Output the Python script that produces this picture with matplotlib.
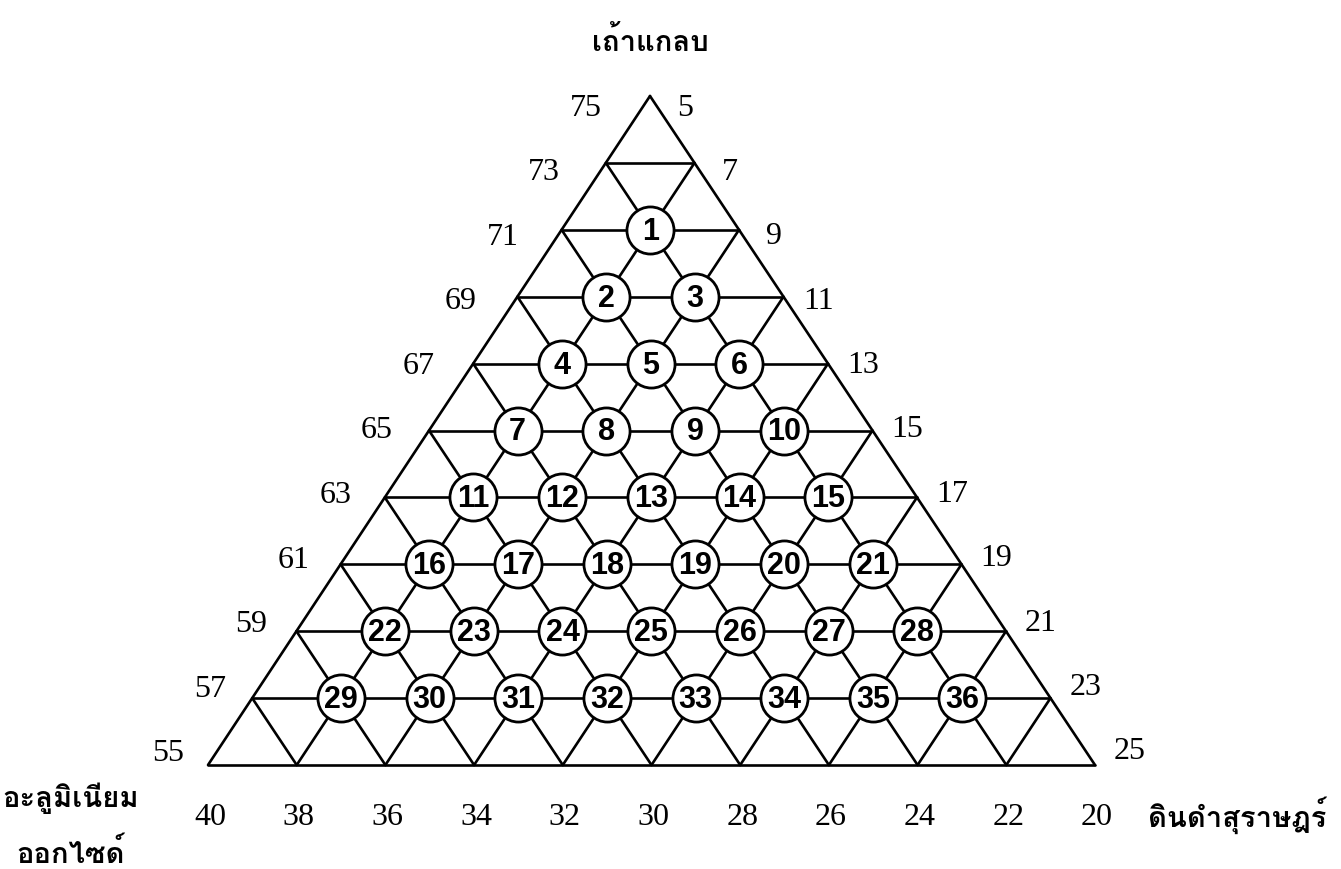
import matplotlib
matplotlib.use('Agg')
import matplotlib.pyplot as plt
from matplotlib import font_manager
from matplotlib.ft2font import FT2Font

# mixture design: เถ้าแกลบ (top), ดินดำสุราษฎร์ (right), อะลูมิเนียมออกไซด์ (left)
ash_ticks = [75, 73, 71, 69, 67, 65, 63, 61, 59, 57, 55]
soil_ticks = [5, 7, 9, 11, 13, 15, 17, 19, 21, 23, 25]
alu_ticks = [40, 38, 36, 34, 32, 30, 28, 26, 24, 22, 20]

# design points (percent), numbered row by row
pt_ash = [71,
          69, 69,
          67, 67, 67,
          65, 65, 65, 65,
          63, 63, 63, 63, 63,
          61, 61, 61, 61, 61, 61,
          59, 59, 59, 59, 59, 59, 59,
          57, 57, 57, 57, 57, 57, 57, 57]
pt_soil = [7,
           7, 9,
           7, 9, 11,
           7, 9, 11, 13,
           7, 9, 11, 13, 15,
           7, 9, 11, 13, 15, 17,
           7, 9, 11, 13, 15, 17, 19,
           7, 9, 11, 13, 15, 17, 19, 21]
pt_labels = [str(i + 1) for i in range(len(pt_ash))]


def thai_font():
    for f in font_manager.fontManager.ttflist:
        try:
            if 0x0E01 in FT2Font(f.fname).get_charmap():
                return f.name
        except Exception:
            pass
    return 'DejaVu Sans'


THAI = [thai_font(), 'DejaVu Sans']

# triangle corners in pixel space (top, bottom-left, bottom-right)
TOP = (650.0, 97.0)
BL = (208.0, 766.0)
BR = (1095.0, 766.0)


def to_xy(ash, soil):
    a = (ash - 55) / 20.0
    c = (soil - 5) / 20.0
    b = 1.0 - a - c
    x = a * TOP[0] + b * BL[0] + c * BR[0]
    y = a * TOP[1] + b * BL[1] + c * BR[1]
    return x, y


fig = plt.figure(figsize=(13.41, 8.70), dpi=100)
ax = fig.add_axes([0, 0, 1, 1])
ax.set_xlim(0, 1341)
ax.set_ylim(870, 0)
ax.axis('off')

lw = 1.9
# horizontal lines (constant ash)
for ash in ash_ticks[1:]:
    x0, y0 = to_xy(ash, 5)
    x1, y1 = to_xy(ash, 5 + (75 - ash))
    ax.plot([x0, x1], [y0, y1], 'k', lw=lw, solid_capstyle='round')
# lines of constant soil
for s in soil_ticks:
    x0, y0 = to_xy(75 - (s - 5), s)
    x1, y1 = to_xy(55, s)
    ax.plot([x0, x1], [y0, y1], 'k', lw=lw, solid_capstyle='round')
# lines of constant alumina
for al in alu_ticks:
    x0, y0 = to_xy(55 + (40 - al), 5)
    x1, y1 = to_xy(55, 45 - al)
    ax.plot([x0, x1], [y0, y1], 'k', lw=lw, solid_capstyle='round')

# design points
for ash, soil, lab in zip(pt_ash, pt_soil, pt_labels):
    x, y = to_xy(ash, soil)
    ax.scatter([x], [y], s=1150, facecolor='white', edgecolor='black',
               linewidth=2.0, zorder=3)
    ax.text(x, y + 1, lab, ha='center', va='center', fontsize=22,
            fontweight='bold', family='Liberation Sans', zorder=4)

serif = 'Liberation Serif'
# left side (ash)
for i, v in enumerate(ash_ticks):
    x, y = to_xy(v, 5)
    ax.text(x - 64 + 2.4 * i, y + 11 - 2.3 * i, str(v), ha='center',
            va='center', fontsize=23, family=serif)
# right side (soil)
for i, v in enumerate(soil_ticks):
    x, y = to_xy(55 + (25 - v), v)
    ax.text(x + 35, y + 11 - 2.5 * i, str(v), ha='center', va='center',
            fontsize=23, family=serif)
# bottom (alumina)
for v in alu_ticks:
    x, y = to_xy(55, 45 - v)
    ax.text(x + 2, 818, str(v), ha='center', va='center',
            fontsize=23, family=serif)

ax.text(650, 42, 'เถ้าแกลบ', ha='center', va='center', fontsize=21,
        fontweight='bold', family=THAI)
ax.text(71, 807, 'อะลูมิเนียม', ha='center', va='baseline', fontsize=21,
        fontweight='bold', family=THAI)
ax.text(71, 863, 'ออกไซด์', ha='center', va='baseline', fontsize=21,
        fontweight='bold', family=THAI)
ax.text(1237, 827, 'ดินดำสุราษฎร์', ha='center', va='baseline', fontsize=21,
        fontweight='bold', family=THAI)

fig.savefig('out.png', dpi=100)
